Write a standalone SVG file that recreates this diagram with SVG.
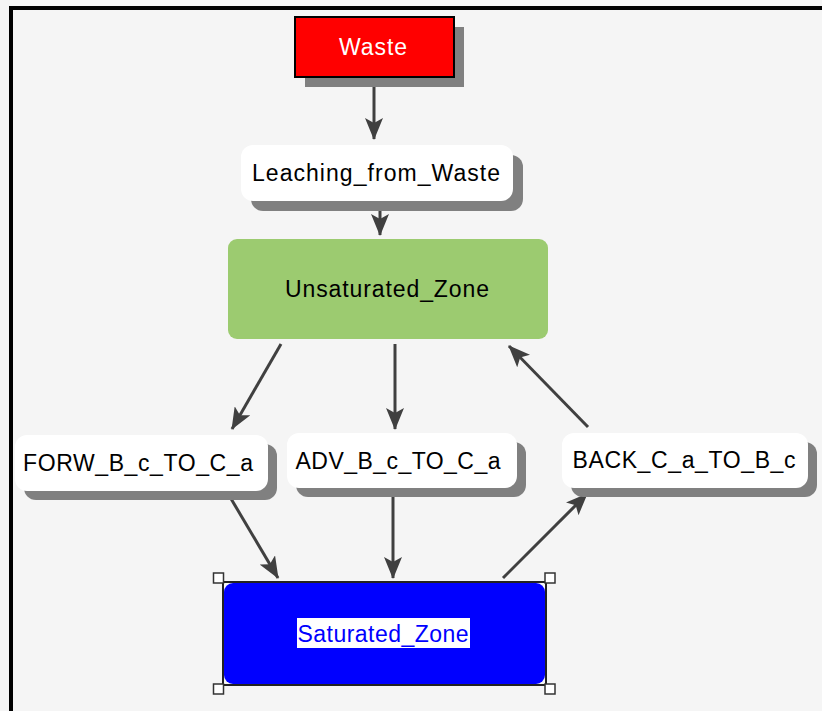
<svg xmlns="http://www.w3.org/2000/svg" width="822" height="711" viewBox="0 0 822 711">
<style>
text{font-family:"Liberation Sans",Arial,sans-serif;font-size:23px;text-anchor:middle}
.sh{fill:#808080}
.wn{fill:#ffffff}
.lbl{fill:#000000}
.edge{stroke:#404040;stroke-width:3;fill:none;marker-end:url(#ah)}
.hdl{fill:#ffffff;stroke:#333333;stroke-width:1.5}
</style>
<defs>
<marker id="ah" markerUnits="userSpaceOnUse" markerWidth="22" markerHeight="18" viewBox="0 0 22 18" refX="21" refY="9" orient="auto">
<path d="M0,0 L22,9 L0,18 L5,9 Z" fill="#404040"/>
</marker>
</defs>
<rect x="0" y="0" width="822" height="711" fill="#f5f5f5"/>
<rect x="9" y="6" width="813" height="4" fill="#000"/>
<rect x="9" y="6" width="4" height="705" fill="#000"/>

<g id="connectors">
<line class="edge" x1="374" y1="78" x2="374" y2="139"/>
<line class="edge" x1="380" y1="207" x2="380" y2="235"/>
<line class="edge" x1="281" y1="344" x2="232" y2="429"/>
<line class="edge" x1="395" y1="344" x2="395" y2="429"/>
<line class="edge" x1="588" y1="427" x2="509" y2="346"/>
<line class="edge" x1="230" y1="497" x2="278" y2="578"/>
<line class="edge" x1="393" y1="493" x2="393" y2="578"/>
<line class="edge" x1="503" y1="578" x2="587" y2="494"/>
</g>

<g id="waste">
<rect class="sh" x="305" y="27" width="159" height="60"/>
<rect x="295" y="17" width="159" height="60" fill="#ff0000" stroke="#000" stroke-width="2"/>
<text x="373" y="55" fill="#ffffff" textLength="68">Waste</text>
</g>

<g id="leaching">
<rect class="sh" x="251" y="155" width="272" height="56" rx="12"/>
<rect class="wn" x="241" y="145" width="272" height="56" rx="12"/>
<text class="lbl" x="376" y="181" textLength="248">Leaching_from_Waste</text>
</g>

<g id="unsaturated">
<rect x="228" y="239" width="320" height="100" rx="9" fill="#9ccb70"/>
<text class="lbl" x="387" y="297" textLength="204">Unsaturated_Zone</text>
</g>

<g id="forw">
<rect class="sh" x="24" y="444" width="253" height="56" rx="12"/>
<rect class="wn" x="15" y="435" width="253" height="56" rx="12"/>
<text class="lbl" x="138" y="471" textLength="230">FORW_B_c_TO_C_a</text>
</g>

<g id="adv">
<rect class="sh" x="296" y="442" width="230" height="55" rx="12"/>
<rect class="wn" x="287" y="433" width="230" height="55" rx="12"/>
<text class="lbl" x="398" y="469" textLength="205">ADV_B_c_TO_C_a</text>
</g>

<g id="back">
<rect class="sh" x="571" y="442" width="246" height="55" rx="12"/>
<rect class="wn" x="562" y="433" width="246" height="55" rx="12"/>
<text class="lbl" x="684" y="468" textLength="223">BACK_C_a_TO_B_c</text>
</g>

<g id="saturated">
<rect x="223" y="582" width="323" height="103" fill="#f5f5f5" stroke="#222222" stroke-width="2"/>
<rect x="224" y="583" width="321" height="101" rx="9" fill="#0000ff"/>
<rect x="297" y="618" width="173" height="30" fill="#ffffff"/>
<text x="383" y="642" fill="#0000ff" textLength="171">Saturated_Zone</text>
<rect class="hdl" x="213.5" y="573" width="10" height="10"/>
<rect class="hdl" x="545" y="573" width="10" height="10"/>
<rect class="hdl" x="213.5" y="684" width="10" height="10"/>
<rect class="hdl" x="545" y="684" width="10" height="10"/>
</g>
</svg>
